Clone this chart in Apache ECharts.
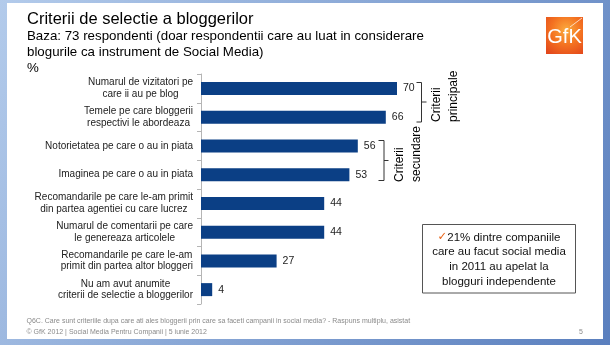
<!DOCTYPE html>
<html><head><meta charset="utf-8">
<script src="https://cdn.jsdelivr.net/npm/echarts@6/dist/echarts.min.js"></script>
<style>html,body{margin:0;padding:0;background:#fff}#c{width:610px;height:345px}</style>
</head><body><div id="c"></div>
<script>
const categories = [
  'Numarul de vizitatori pe\ncare ii au pe blog',
  'Temele pe care bloggerii\nrespectivi le abordeaza',
  'Notorietatea pe care o au in piata',
  'Imaginea pe care o au in piata',
  'Recomandarile pe care le-am primit\ndin partea agentiei cu care lucrez',
  'Numarul de comentarii pe care\nle genereaza articolele',
  'Recomandarile pe care le-am\nprimit din partea altor bloggeri',
  'Nu am avut anumite\ncriterii de selectie a bloggerilor'
];
const values = [70, 66, 56, 53, 44, 44, 27, 4];
const titleText = 'Criterii de selectie a bloggerilor';
const subtitleLines = ['Baza: 73 respondenti (doar respondentii care au luat in considerare', 'blogurile ca instrument de Social Media)', '%'];
const groupPrincipal = ['Criterii', 'principale'];
const groupSecundar = ['Criterii', 'secundare'];
const calloutLines = ['21% dintre companiile', 'care au facut social media', 'in 2011 au apelat la', 'blogguri independente'];
const footnote = 'Q6C. Care sunt criteriile dupa care ati ales bloggerii prin care sa faceti campanii in social media? - Raspuns multiplu, asistat';
const footer = '\u00A9 GfK 2012 | Social Media Pentru Companii | 5 iunie 2012';
const pageNo = '5';

const FONT = '"Liberation Sans", Arial, sans-serif';
const chart = echarts.init(document.getElementById('c'), null, {renderer: 'canvas'});

function t(x, y, text, size, color, extra, rot) {
  const el = {type: 'text', x: x, y: y, z: 10, style: Object.assign({
    text: text, font: size + 'px ' + FONT, fill: color, textAlign: 'left', textVerticalAlign: 'middle'
  }, extra || {})};
  if (rot) el.rotation = rot;
  return el;
}
function line(points) {
  return {type: 'polyline', z: 10, shape: {points: points}, style: {stroke: '#333', lineWidth: 1, fill: null}};
}
const UP = Math.PI / 2;

const graphics = [
  {type: 'rect', z: -20, shape: {x: 0, y: 0, width: 610, height: 345},
   style: {fill: new echarts.graphic.LinearGradient(0, 0, 1, 1, [
     {offset: 0, color: '#b3cbeb'}, {offset: 1, color: '#5a7fbe'}])}},
  {type: 'rect', z: -19, shape: {x: 7, y: 3, width: 596, height: 336}, style: {fill: '#ffffff'}},
  t(27, 19, titleText, 16.5, '#000'),
  t(27, 36, subtitleLines[0], 13.3, '#000'),
  t(27, 52, subtitleLines[1], 13.3, '#000'),
  t(27, 68, subtitleLines[2], 13.3, '#000'),
  // logo
  {type: 'rect', z: 10, shape: {x: 546, y: 17, width: 37, height: 37},
   style: {fill: new echarts.graphic.RadialGradient(0.55, 0.35, 0.8, [
     {offset: 0, color: '#fbab3e'}, {offset: 0.5, color: '#f47321'}, {offset: 1, color: '#e2461b'}])}},
  {type: 'line', z: 11, shape: {x1: 570, y1: 27, x2: 582, y2: 18}, style: {stroke: 'rgba(255,255,255,0.7)', lineWidth: 1}},
  t(564.5, 37.5, 'GfK', 20, '#fff', {textAlign: 'center', font: '20px "Liberation Sans Narrow", "Liberation Sans", sans-serif'}),
  // brackets
  line([[416.5, 82.5], [421.5, 82.5], [421.5, 122], [416.5, 122]]),
  line([[421.5, 102], [426.5, 102]]),
  line([[378.5, 140.5], [384, 140.5], [384, 180.5], [378.5, 180.5]]),
  line([[384, 160.5], [388.5, 160.5]]),
  t(437, 122, groupPrincipal[0], 12, '#000', {}, UP),
  t(453.5, 122, groupPrincipal[1], 12, '#000', {}, UP),
  t(399.5, 182, groupSecundar[0], 12, '#000', {}, UP),
  t(416.5, 182, groupSecundar[1], 12, '#000', {}, UP),
  // callout
  {type: 'rect', z: 10, shape: {x: 422.5, y: 224.5, width: 153, height: 68.5},
   style: {fill: '#fff', stroke: '#555', lineWidth: 1}},
  {type: 'text', x: 499, y: 259.5, z: 11, style: {
    text: '{o|\u2713}{t|' + calloutLines[0] + '}\n{t|' + calloutLines[1] + '}\n{t|' + calloutLines[2] + '}\n{t|' + calloutLines[3] + '}',
    textAlign: 'center', textVerticalAlign: 'middle',
    rich: {
      o: {fill: '#e8661c', font: '11.5px "DejaVu Sans", sans-serif', lineHeight: 14.7},
      t: {fill: '#111', font: '11.5px ' + FONT, lineHeight: 14.7}
    }
  }},
  // footer
  t(26.5, 321, footnote, 7, '#8a8a8a'),
  t(26.5, 332.5, footer, 7, '#8a8a8a'),
  t(581, 332.5, pageNo, 7, '#8a8a8a', {textAlign: 'center'})
];

chart.setOption({
  animation: false,
  backgroundColor: 'transparent',
  grid: {left: 201, top: 74, width: 280, height: 230, containLabel: false},
  xAxis: {type: 'value', min: 0, max: 100, show: false},
  yAxis: {
    type: 'category', inverse: true, data: categories,
    axisLine: {show: true, lineStyle: {color: '#b5b5b5', width: 1}},
    axisTick: {show: true, length: 4, lineStyle: {color: '#b5b5b5'}},
    axisLabel: {
      margin: 8, align: 'right', color: '#222', fontSize: 10, fontFamily: FONT, lineHeight: 11.5,
      formatter: function (v) { return v.split('\n').map(function (l) { return '{c|' + l + '}'; }).join('\n'); },
      rich: {c: {align: 'center', fontSize: 10, fontFamily: FONT, color: '#222', lineHeight: 11.5}}
    }
  },
  series: [{
    type: 'bar', data: values, barWidth: 13,
    itemStyle: {color: '#0b3f85'},
    label: {show: true, position: 'right', distance: 6, color: '#222', fontSize: 10.5, fontFamily: FONT}
  }],
  graphic: {elements: graphics}
});
</script>
</body></html>
